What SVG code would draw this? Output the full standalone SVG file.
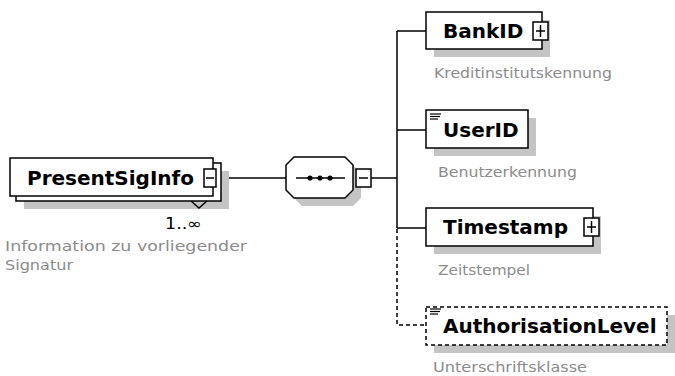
<svg xmlns="http://www.w3.org/2000/svg" width="675" height="376" viewBox="0 0 675 376">
<style>
.bg{fill:#fff}
.box{fill:#fff;stroke:#000;stroke-width:1.5}
.dbox{fill:#fff;stroke:#000;stroke-width:1.5;stroke-dasharray:4 3}
.shadow{fill:#c4c4c4}
.conn{stroke:#000;stroke-width:1.5;fill:none}
.dash{stroke-dasharray:4 3}
.icon{stroke:#000;stroke-width:1.2}
.name{font-family:"DejaVu Sans",Verdana,sans-serif;font-weight:bold;font-size:20px;fill:#000}
.desc{font-family:"DejaVu Sans",Verdana,sans-serif;font-size:14px;fill:#8c8c8c}
.card{font-family:"DejaVu Sans",Verdana,sans-serif;font-size:15px;fill:#000}
</style>
<rect class="bg" x="0" y="0" width="675" height="376"/>

<g id="connectors">
  <line class="conn" x1="216" y1="178" x2="286" y2="178"/>
  <line class="conn" x1="371" y1="178" x2="397" y2="178"/>
  <line class="conn" x1="397" y1="31" x2="397" y2="228"/>
  <line class="conn" x1="397" y1="31" x2="426" y2="31"/>
  <line class="conn" x1="397" y1="130" x2="426" y2="130"/>
  <line class="conn" x1="397" y1="228" x2="426" y2="228"/>
  <polyline class="conn dash" points="397,229 397,325 426,325"/>
</g>

<g id="PresentSigInfo">
  <rect class="shadow" x="24" y="171" width="205" height="38"/>
  <rect class="box" x="16" y="163" width="205" height="38"/>
  <polyline class="conn" points="191,201 199,208 207,201"/>
  <rect class="box" x="10" y="158" width="203" height="38"/>
  <text class="name" x="27" y="185">PresentSigInfo</text>
  <rect class="box" x="204" y="169" width="12" height="18"/>
  <line class="conn" x1="206" y1="178" x2="214" y2="178"/>
  <text class="card" x="165" y="229" textLength="37" lengthAdjust="spacingAndGlyphs">1..∞</text>
  <text class="desc" x="5" y="251" textLength="242" lengthAdjust="spacingAndGlyphs">Information zu vorliegender</text>
  <text class="desc" x="5" y="270" textLength="68" lengthAdjust="spacingAndGlyphs">Signatur</text>
</g>

<g id="sequence">
  <polygon class="shadow" points="302,165 353,165 361,173 361,198 353,206 302,206 294,198 294,173"/>
  <polygon class="box" points="294,157 345,157 353,165 353,190 345,198 294,198 286,190 286,165"/>
  <line class="conn" x1="296" y1="178" x2="345" y2="178"/>
  <circle cx="310" cy="178" r="2.6"/>
  <circle cx="320" cy="178" r="2.6"/>
  <circle cx="330" cy="178" r="2.6"/>
  <rect class="box" x="356" y="169" width="15" height="18"/>
  <line class="conn" x1="359" y1="178" x2="368" y2="178"/>
</g>

<g id="BankID">
  <rect class="shadow" x="434" y="20" width="116" height="37"/>
  <rect class="box" x="426" y="12" width="116" height="37"/>
  <text class="name" x="443" y="38">BankID</text>
  <rect class="box" x="533" y="22" width="15" height="18"/>
  <line class="conn" x1="536" y1="31" x2="545" y2="31"/>
  <line class="conn" x1="540.5" y1="25" x2="540.5" y2="37"/>
  <text class="desc" x="434" y="78" textLength="178" lengthAdjust="spacingAndGlyphs">Kreditinstitutskennung</text>
</g>

<g id="UserID">
  <rect class="shadow" x="434" y="118" width="102" height="38"/>
  <rect class="box" x="426" y="110" width="102" height="38"/>
  <line class="icon" x1="430" y1="114" x2="441" y2="114"/>
  <line class="icon" x1="430" y1="116.5" x2="440" y2="116.5"/>
  <line class="icon" x1="430" y1="119" x2="438" y2="119"/>
  <text class="name" x="443" y="137">UserID</text>
  <text class="desc" x="438" y="177" textLength="139" lengthAdjust="spacingAndGlyphs">Benutzerkennung</text>
</g>

<g id="Timestamp">
  <rect class="shadow" x="434" y="216" width="167" height="38"/>
  <rect class="box" x="426" y="208" width="167" height="38"/>
  <text class="name" x="443" y="234">Timestamp</text>
  <rect class="box" x="584" y="218" width="15" height="18"/>
  <line class="conn" x1="587" y1="227" x2="596" y2="227"/>
  <line class="conn" x1="591.5" y1="221" x2="591.5" y2="233"/>
  <text class="desc" x="438" y="275" textLength="92" lengthAdjust="spacingAndGlyphs">Zeitstempel</text>
</g>

<g id="AuthorisationLevel">
  <rect class="shadow" x="434" y="315" width="241" height="38"/>
  <rect class="dbox" x="426" y="307" width="241" height="38"/>
  <line class="icon" x1="430" y1="309" x2="441" y2="309"/>
  <line class="icon" x1="430" y1="311.5" x2="440" y2="311.5"/>
  <line class="icon" x1="430" y1="314" x2="438" y2="314"/>
  <text class="name" x="443" y="333">AuthorisationLevel</text>
  <text class="desc" x="433" y="372" textLength="154" lengthAdjust="spacingAndGlyphs">Unterschriftsklasse</text>
</g>
</svg>
